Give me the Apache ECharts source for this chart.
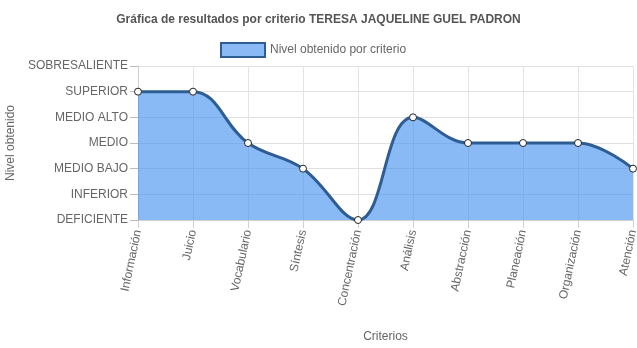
<!DOCTYPE html>
<html><head><meta charset="utf-8">
<script src="https://cdn.jsdelivr.net/npm/echarts@6/dist/echarts.min.js"></script>
<style>html,body{margin:0;padding:0;background:#fff}#c{width:637px;height:348px}</style>
</head><body><div id="c"></div>
<script>
const levels = ['DEFICIENTE','INFERIOR','MEDIO BAJO','MEDIO','MEDIO ALTO','SUPERIOR','SOBRESALIENTE'];
const criterios = ['Información','Juicio','Vocabulario','Síntesis','Concentración','Análisis','Abstracción','Planeación','Organización','Atención'];
const nivelObtenido = ['SUPERIOR','SUPERIOR','MEDIO','MEDIO BAJO','DEFICIENTE','MEDIO ALTO','MEDIO','MEDIO','MEDIO','MEDIO BAJO'];
const seriesName = 'Nivel obtenido por criterio';

const chart = echarts.init(document.getElementById('c'), null, {renderer:'canvas'});
const FONT = 'Liberation Sans, Arial, sans-serif';
chart.setOption({
  animation:false,
  textStyle:{fontFamily:FONT},
  title:{text:'Gráfica de resultados por criterio TERESA JAQUELINE GUEL PADRON', left:'center', top:9,
    textStyle:{fontSize:12, fontWeight:'bold', color:'#555', fontFamily:FONT}},
  legend:{top:37, left:215, itemWidth:44, itemHeight:14, icon:'rect', itemGap:5, padding:5,
    textStyle:{fontSize:12, color:'#666', fontFamily:FONT},
    data:[{name:seriesName, itemStyle:{color:'#8ab9f5', borderColor:'#2d5d92', borderWidth:2}}]},
  grid:{left:138, right:4, top:66, bottom:128, containLabel:false, outerBoundsMode:'none'},
  xAxis:{type:'category', data:criterios, boundaryGap:false,
    name:'Criterios', nameLocation:'middle', nameGap:111,
    nameTextStyle:{fontSize:12, color:'#666', fontFamily:FONT},
    axisLine:{show:true, lineStyle:{color:'#d0d0d0'}},
    axisTick:{show:true, length:8, lineStyle:{color:'#d0d0d0'}},
    splitLine:{show:true, lineStyle:{color:'#e4e4e4'}},
    axisLabel:{rotate:78, fontSize:12, color:'#666', margin:10, fontFamily:FONT}},
  yAxis:{type:'value', min:0, max:6, interval:1,
    name:'Nivel obtenido', nameLocation:'middle', nameGap:117, nameRotate:90,
    nameTextStyle:{fontSize:12, color:'#666', fontFamily:FONT},
    axisLine:{show:true, lineStyle:{color:'#d0d0d0'}},
    axisTick:{show:true, length:8, lineStyle:{color:'#bbb'}},
    splitLine:{show:true, lineStyle:{color:'#e0e0e0'}},
    axisLabel:{fontSize:12, color:'#666', margin:10, fontFamily:FONT, formatter:v=>levels[v]||''}},
  series:[{name:seriesName, type:'line', smooth:0.4,
    data:nivelObtenido.map(l=>levels.indexOf(l)),
    symbol:'circle', symbolSize:7,
    itemStyle:{color:'#fff', borderColor:'#222', borderWidth:1},
    lineStyle:{color:'#2d5d92', width:3},
    areaStyle:{color:'rgba(60,140,240,0.6)', opacity:1, origin:'start'}}]
});
</script></body></html>
